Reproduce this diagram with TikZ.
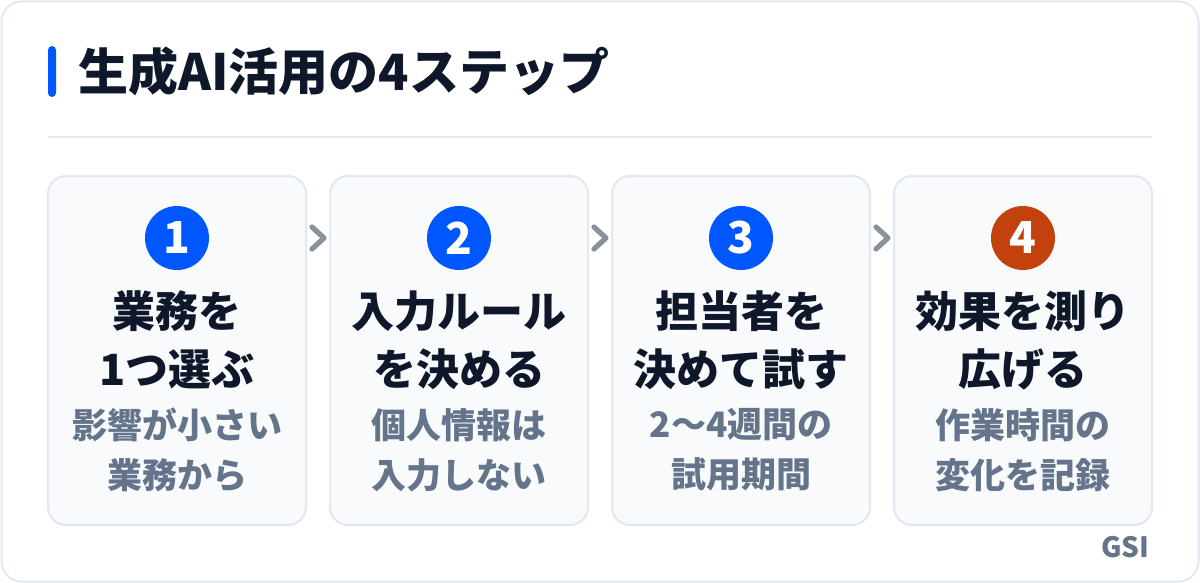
\documentclass[tikz,border=0pt]{standalone}
\usepackage{fontspec}
\setmainfont{Noto Sans CJK JP}
\newfontfamily\heavyjp{Noto Sans CJK JP Black}
\usetikzlibrary{calc}
\definecolor{lineGray}{HTML}{E2E8F0}
\definecolor{cardFill}{HTML}{F8FAFC}
\definecolor{inkNavy}{HTML}{0F172A}
\definecolor{subGray}{HTML}{64748B}
\definecolor{chevGray}{RGB}{138,145,155}
\definecolor{stepBlue}{RGB}{0,87,255}
\definecolor{stepOrange}{HTML}{C2410C}

\begin{document}
\begin{tikzpicture}[x=0.5pt, y=-0.5pt,
    card/.style={draw=lineGray, line width=1pt, fill=cardFill, rounded corners=9pt,
        minimum width=129pt, minimum height=174.5pt, inner sep=0pt},
    badge/.style={circle, minimum size=32pt, inner sep=0pt, text=white,
        font=\bfseries\fontsize{22}{24}\selectfont},
    headtext/.style={align=center, inner sep=0pt, text=inkNavy,
        font=\heavyjp\fontsize{21.5}{29}\selectfont},
    subtext/.style={align=center, inner sep=0pt, text=subGray,
        font=\bfseries\fontsize{17.5}{25}\selectfont},
    chev/.style={draw=chevGray, line width=2.6pt, line cap=round, line join=round}]
\useasboundingbox (0,0) rectangle (1200,583);

% Outer panel
\draw[draw=lineGray, line width=1pt, fill=white, rounded corners=10pt] (1.5,1.5) rectangle (1198.5,581.5);

% Title
\fill[stepBlue, rounded corners=2pt] (48,46) rectangle (56,97);
\node[anchor=west, inner sep=0pt, text=inkNavy, font=\heavyjp\fontsize{25}{28}\selectfont] (title) at (78,71) {生成AI活用の4ステップ};
\draw[lineGray, line width=1pt] (48,137) -- (1152,137);

% Step 1
\node[card] (step1) at (177,350.5) {};
\node[badge, fill=stepBlue] (num1) at (177,238) {1};
\node[headtext] (head1) at (177,340) {業務を\\1つ選ぶ};
\node[subtext] (sub1) at (177,450) {影響が小さい\\業務から};

% Step 2
\node[card] (step2) at (459,350.5) {};
\node[badge, fill=stepBlue] (num2) at (459,238) {2};
\node[headtext] (head2) at (459,340) {入力ルール\\を決める};
\node[subtext] (sub2) at (459,450) {個人情報は\\入力しない};

% Step 3
\node[card] (step3) at (741,350.5) {};
\node[badge, fill=stepBlue] (num3) at (741,238) {3};
\node[headtext] (head3) at (741,340) {担当者を\\決めて試す};
\node[subtext] (sub3) at (741,450) {2〜4週間の\\試用期間};

% Step 4
\node[card] (step4) at (1023,350.5) {};
\node[badge, fill=stepOrange] (num4) at (1023,238) {4};
\node[headtext] (head4) at (1023,340) {効果を測り\\広げる};
\node[subtext] (sub4) at (1023,450) {作業時間の\\変化を記録};

% Chevrons between steps
\coordinate (c12) at ($(num1)!0.5!(num2)$);
\coordinate (c23) at ($(num2)!0.5!(num3)$);
\coordinate (c34) at ($(num3)!0.5!(num4)$);
\draw[chev] ([shift={(-6,-11)}]c12) -- ([shift={(6,0)}]c12) -- ([shift={(-6,11)}]c12);
\draw[chev] ([shift={(-6,-11)}]c23) -- ([shift={(6,0)}]c23) -- ([shift={(-6,11)}]c23);
\draw[chev] ([shift={(-6,-11)}]c34) -- ([shift={(6,0)}]c34) -- ([shift={(-6,11)}]c34);

% Source
\node[anchor=east, inner sep=0pt, text=subGray, font=\bfseries\fontsize{14}{16}\selectfont] (source) at (1150,547) {GSI};
\end{tikzpicture}
\end{document}
